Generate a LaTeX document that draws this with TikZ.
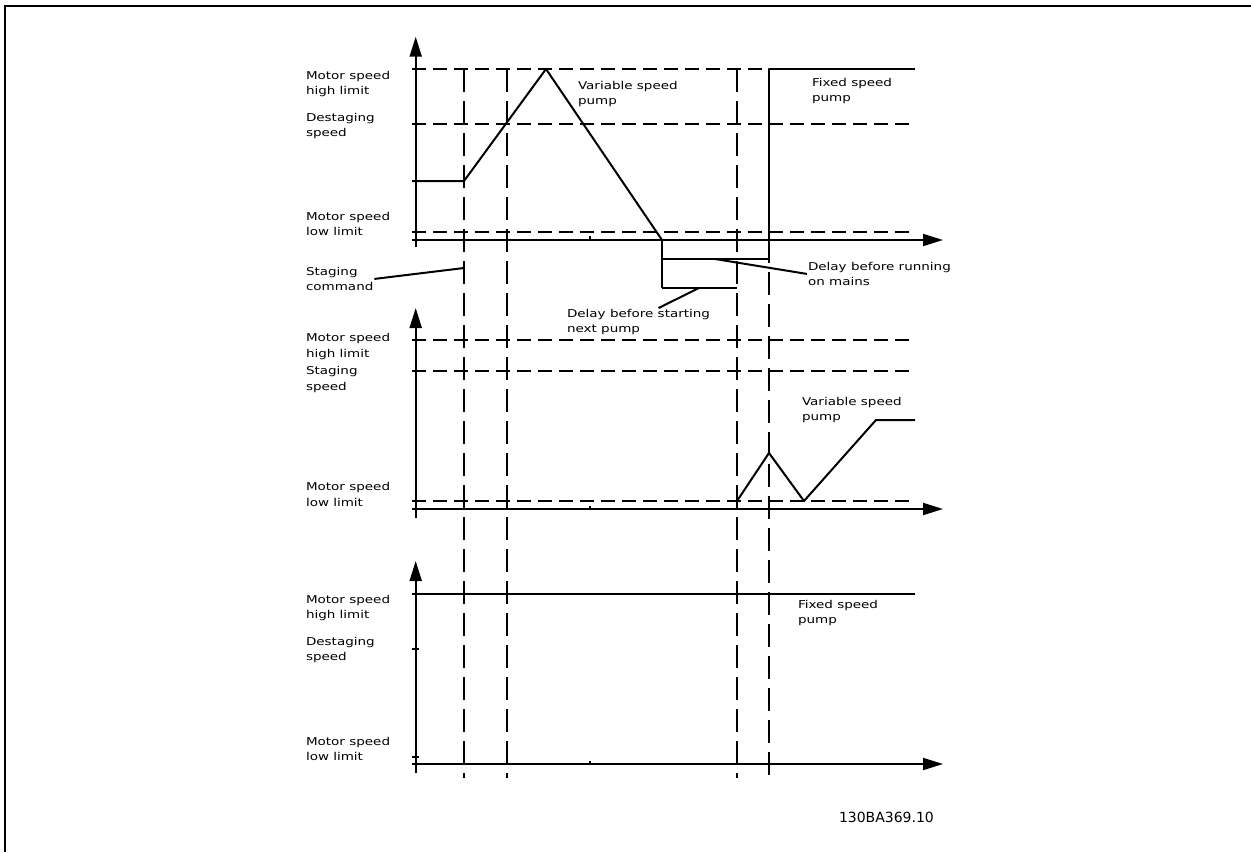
\documentclass[tikz,border=0pt]{standalone}
\usepackage{fontspec}
\usepackage{tikz}
\usetikzlibrary{arrows.meta, positioning, calc}
\newfontfamily\lblfont[FakeStretch=1.25]{DejaVu Sans}
\newfontfamily\codefont{DejaVu Sans}

\begin{document}
\begin{tikzpicture}[x=1pt, y=-1pt, line width=2pt,
  axis/.style={-{Triangle[length=20pt,width=12pt]}},
  hdash/.style={dash pattern=on 14pt off 7pt},
  vdash/.style={dash pattern=on 23pt off 9pt},
  speed/.style={line join=round},
  lbl/.style={anchor=north west, inner sep=0pt, align=left, font=\lblfont\fontsize{10.8}{15.5}\selectfont}]
\useasboundingbox (0,0) rectangle (1251,852);

% frame
\draw (5,852) -- (5,6) -- (1251,6);

% upper chart: axes and speed levels
\draw[axis] (415.7,247) -- (415.7,36.7);
\draw[axis] (412,240) -- (943,240);
\draw (590,240) -- (590,236);
\draw[hdash] (412,69) -- (769,69);
\draw[hdash] (412,124) -- (915,124);
\draw[hdash] (412,232) -- (915,232);

% time markers through all three charts
\draw[vdash] (464,69) -- (464,778);
\draw[vdash] (507,69) -- (507,778);
\draw[vdash] (737,69) -- (737,778);
\draw[vdash] (769,240) -- (769,778);

% variable speed pump ramps up, then down to zero
\draw[speed] (412,181) -- (464,181) -- (546,69) -- (662,240);
% fixed speed pump switched on mains
\draw[speed] (769,240) -- (769,69) -- (915,69);

% delay brackets
\draw (662,240) -- (662,288);
\draw (662,259) -- (769,259);
\draw (662,288) -- (737,288);
\coordinate (stagpt) at (464,268);
\coordinate (runpt) at (715,259);
\coordinate (startpt) at (699,288);

\node[lbl] (hi1) at (305,70) {Motor speed\\high limit};
\node[lbl] (de1) at (305,112) {Destaging\\speed};
\node[lbl] (lo1) at (305,211) {Motor speed\\low limit};
\node[lbl] (var1) at (577,80) {Variable speed\\pump};
\node[lbl] (fix1) at (811,77) {Fixed speed\\pump};
\node[lbl] (stagtxt) at (305,266) {Staging\\command};
\node[lbl] (runtxt) at (807,261) {Delay before running\\on mains};
\node[lbl] (starttxt) at (566,308) {Delay before starting\\next pump};

\draw (stagtxt.east) -- (stagpt);
\draw (runpt) -- (runtxt.west);
\draw (startpt) -- ($(starttxt.north)+(20,0)$);

% middle chart
\draw[axis] (415.7,518) -- (415.7,308);
\draw[axis] (412,509) -- (943,509);
\draw (590,509) -- (590,506);
\draw[hdash] (412,340) -- (915,340);
\draw[hdash] (412,371) -- (915,371);
\draw[hdash] (412,501) -- (915,501);
\draw[speed] (737,501) -- (769,453) -- (804,501) -- (876,420) -- (915,420);

\node[lbl] (hi2) at (305,332.5) {Motor speed\\high limit};
\node[lbl] (st2) at (305,365.5) {Staging\\speed};
\node[lbl] (lo2) at (305,481.5) {Motor speed\\low limit};
\node[lbl] (var2) at (801,396) {Variable speed\\pump};

% lower chart
\draw[axis] (415.7,773) -- (415.7,561);
\draw[axis] (412,764) -- (943,764);
\draw (590,764) -- (590,761);
\draw (412,594) -- (915,594);
\draw (412,649) -- (419,649);
\draw (412,757) -- (419,757);

\node[lbl] (hi3) at (305,594) {Motor speed\\high limit};
\node[lbl] (de3) at (305,636) {Destaging\\speed};
\node[lbl] (lo3) at (305,736) {Motor speed\\low limit};
\node[lbl] (fix3) at (797,599) {Fixed speed\\pump};

\node[anchor=west, inner sep=0pt, font=\codefont\fontsize{14}{16}\selectfont] (code) at (838,817) {130BA369.10};
\end{tikzpicture}
\end{document}
